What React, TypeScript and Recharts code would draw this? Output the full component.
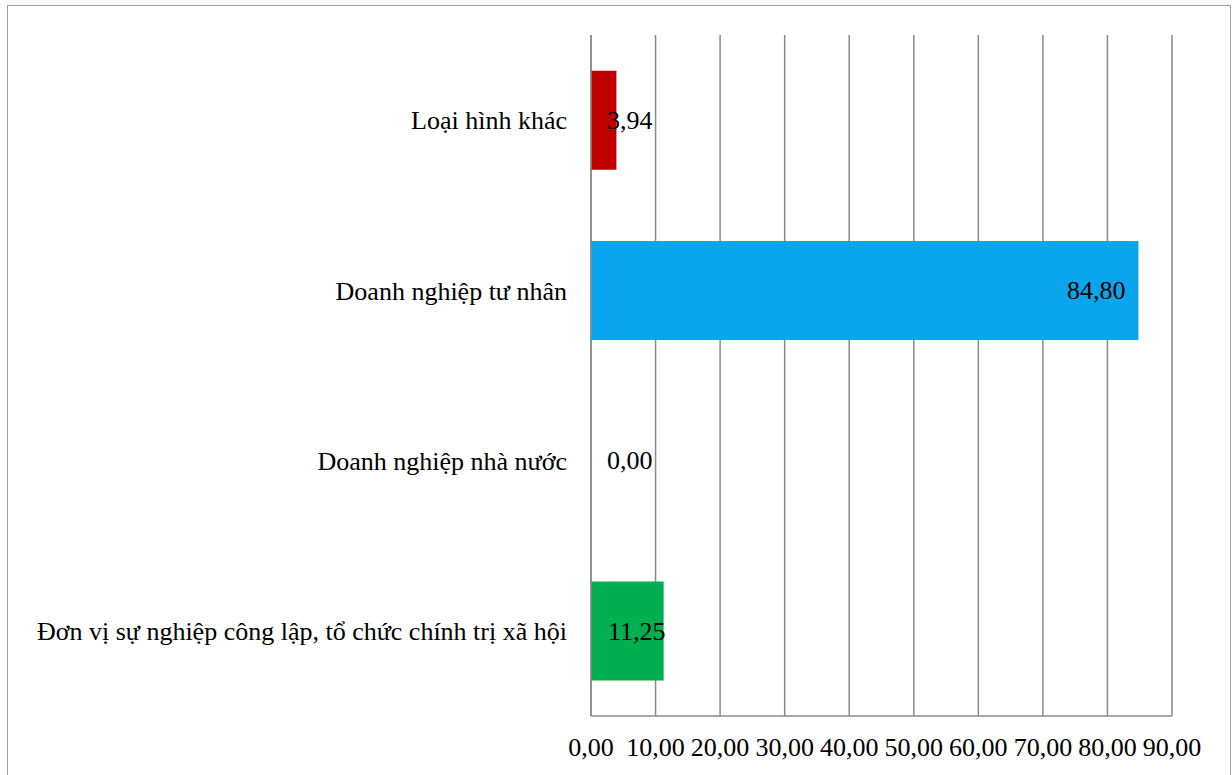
import { Bar, BarChart, CartesianGrid, Cell, LabelList, XAxis, YAxis } from "recharts";

const categories = [
  "Loại hình khác",
  "Doanh nghiệp tư nhân",
  "Doanh nghiệp nhà nước",
  "Đơn vị sự nghiệp công lập, tổ chức chính trị xã hội",
];
const shares = [3.94, 84.8, 0.0, 11.25];
const barColors = ["#C00000", "#0AA5EC", "#0AA5EC", "#00B050"];
const xTicks = [0, 10, 20, 30, 40, 50, 60, 70, 80, 90];

const FONT = "Liberation Serif, Times New Roman, DejaVu Serif, serif";
const FONT_SIZE = 26;
const GRID = "#8a8a8a";

const fmt = (v: number) => v.toFixed(2).replace(".", ",");

// rough Times width: digits 0.5em, comma 0.25em
const textWidth = (s: string) =>
  s.split("").reduce((w, c) => w + (c === "," ? 0.25 : 0.5), 0) * FONT_SIZE;

// inside-end label, pushed right when the bar is too short to hold it
function ValueLabel(props: any) {
  const { x, y, width, height, value } = props;
  const text = fmt(Number(value));
  const end = Math.max(x + width - 13, x + 16 + textWidth(text));
  return (
    <text
      x={end}
      y={y + height / 2}
      textAnchor="end"
      dominantBaseline="central"
      style={{ fontFamily: FONT }}
      fontSize={FONT_SIZE}
      fill="#000"
    >
      {text}
    </text>
  );
}

export default function App() {
  const data = categories.map((name, i) => ({ name, value: shares[i] }));

  return (
    <>
      <div
        style={{
          position: "absolute",
          left: 7,
          top: 5,
          width: 1224,
          height: 770,
          border: "1.5px solid #a0a0a0",
          borderBottom: "none",
          boxSizing: "border-box",
        }}
      />
      <div style={{ position: "absolute", left: 0, top: 0, fontFamily: FONT }}>
        <BarChart
          width={1232}
          height={775}
          data={data}
          layout="vertical"
          margin={{ top: 35, right: 60, bottom: 19, left: 0 }}
          barCategoryGap="21%"
          style={{ fontFamily: FONT }}
        >
          <CartesianGrid horizontal={false} vertical stroke={GRID} strokeWidth={1.5} />
          <XAxis
            type="number"
            domain={[0, 90]}
            ticks={xTicks}
            tickFormatter={fmt}
            height={40}
            tickLine={false}
            tickSize={0}
            tickMargin={22}
            axisLine={{ stroke: GRID, strokeWidth: 1.5 }}
            tick={{ fill: "#000", fontSize: FONT_SIZE, style: { fontFamily: FONT } }}
            interval={0}
          />
          <YAxis
            type="category"
            dataKey="name"
            width={591}
            tickLine={false}
            tickSize={0}
            tickMargin={24}
            axisLine={{ stroke: GRID, strokeWidth: 1.5 }}
            tick={{ fill: "#000", fontSize: FONT_SIZE, style: { fontFamily: FONT } }}
            interval={0}
          />
          <Bar dataKey="value" isAnimationActive={false} minPointSize={0.01}>
            {data.map((d, i) => (
              <Cell key={d.name} fill={barColors[i]} />
            ))}
            <LabelList dataKey="value" content={<ValueLabel />} />
          </Bar>
        </BarChart>
      </div>
    </>
  );
}
